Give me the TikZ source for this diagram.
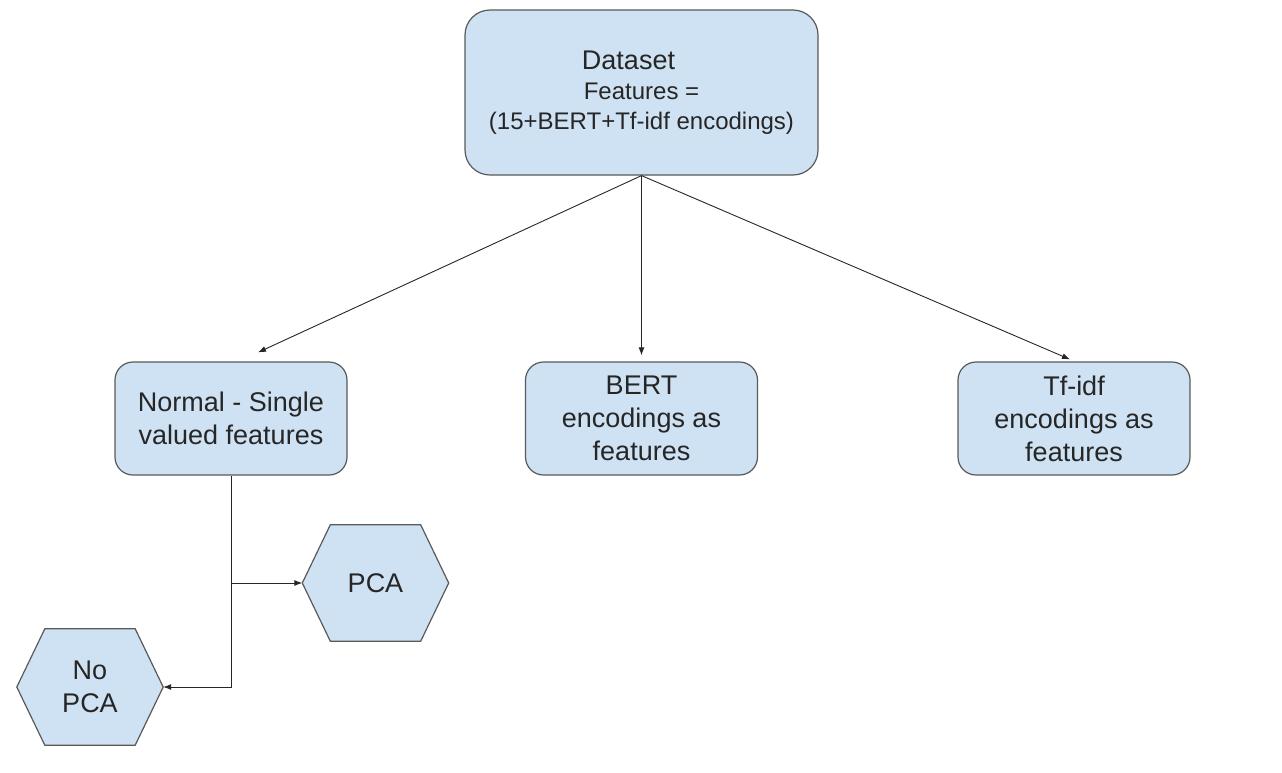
\documentclass[tikz,border=0pt]{standalone}
\usepackage{fontspec}
\setmainfont{Liberation Sans}
\usetikzlibrary{arrows.meta,backgrounds}
\definecolor{boxfill}{HTML}{CFE2F3}
\definecolor{boxline}{HTML}{595959}
\definecolor{textgray}{HTML}{262626}
\tikzset{
  featbox/.style={draw=boxline, fill=boxfill, line width=1.2pt, rounded corners=18pt,
    minimum width=232pt, minimum height=113pt, align=center, text=textgray,
    font=\fontsize{27}{33}\selectfont},
  hexnode/.style={minimum width=146pt, minimum height=116pt, inner sep=0pt,
    align=center, text=textgray, font=\fontsize{27}{33}\selectfont},
  hexline/.style={draw=boxline, fill=boxfill, line width=1.2pt},
  conn/.style={draw=black!85, line width=0.9pt},
  arr/.style={conn, -{Latex[length=8pt,width=6pt]}}
}
\begin{document}
\begin{tikzpicture}[x=1pt,y=-1pt]
        \useasboundingbox (0,0) rectangle (1282,772);
        % Top box
        \node[featbox, minimum width=353pt, minimum height=165pt, rounded corners=25pt,
              font=\fontsize{24}{30}\selectfont] (dataset) at (641.5,92.5)
              {{\fontsize{27}{30}\selectfont Dataset\hspace*{26pt}}\\Features =\\(15+BERT+Tf-idf encodings)};
        % Feature groups
        \node[featbox] (normal) at (231,418.5) {Normal - Single\\valued features};
        \node[featbox] (bert) at (641.5,418.5) {BERT\\encodings as\\features};
        \node[featbox] (tfidf) at (1074,418.5) {Tf-idf\\encodings as\\features};
        % PCA choice
        \node[hexnode] (pca) at (375.5,583) {PCA};
        \node[hexnode] (nopca) at (90,687) {No\\PCA};
        \begin{scope}[on background layer]
          \foreach \hex in {pca,nopca}
            \draw[hexline] (\hex.west) -- ([xshift=28pt]\hex.north west) -- ([xshift=-28pt]\hex.north east)
              -- (\hex.east) -- ([xshift=-28pt]\hex.south east) -- ([xshift=28pt]\hex.south west) -- cycle;
        \end{scope}
        % Arrows from the dataset
        \draw[arr] (dataset.south) -- ([xshift=27pt,yshift=9pt]normal.north);
        \draw[arr] (dataset.south) -- ([yshift=6pt]bert.north);
        \draw[arr] (dataset.south) -- ([xshift=-4pt,yshift=2pt]tfidf.north);
        % Branch below the single valued features
        \coordinate (split) at (normal.south |- pca.west);
        \draw[arr] (normal.south) |- (nopca.east);
        \draw[arr] (split) -- (pca.west);
\end{tikzpicture}
\end{document}
